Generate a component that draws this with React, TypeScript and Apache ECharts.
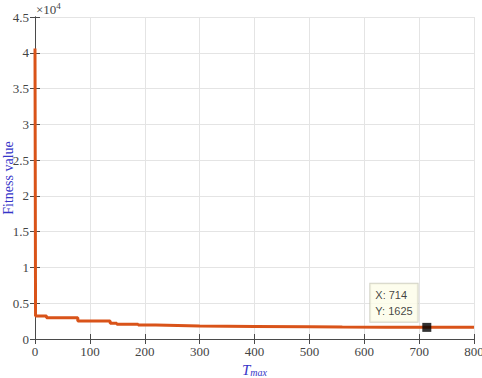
import React, { useEffect, useRef } from "react";
import * as echarts from "echarts";

const iterations = [0, 1, 21, 78, 137, 149, 188, 220, 260, 300, 400, 500, 560, 640, 714, 800];
const fitness = [40600, 3200, 2980, 2515, 2190, 2050, 1950, 1880, 1800, 1760, 1700, 1660, 1640, 1630, 1625, 1625];
const tipPoint = [714, 1625];
const xTicks = { min: 0, max: 800, interval: 100 };
const yTicks = { min: 0, max: 45000, interval: 5000 };
const yScale = 10000;

const serif = "'Liberation Serif', 'DejaVu Serif', serif";
const blue = "#3535c8";
const axisCol = "#4a4a4a";

export default function App() {
  const ref = useRef<HTMLDivElement>(null);
  useEffect(() => {
    document.body.style.margin = "0";
    const chart = echarts.init(ref.current!, null, { renderer: "svg" });
    const axisCommon = {
      axisLine: { show: true, lineStyle: { color: axisCol, width: 1 } },
      axisTick: { show: true, inside: true, length: 5, lineStyle: { color: axisCol } },
    };
    chart.setOption({
      animation: false,
      backgroundColor: "#ffffff",
      grid: { left: 35, right: 8, top: 17, bottom: 39, containLabel: false, outerBoundsMode: "none" },
      xAxis: [
        {
          type: "value",
          ...xTicks,
          position: "bottom",
          ...axisCommon,
          axisLabel: { color: "#444", fontFamily: serif, fontSize: 13, margin: 6 },
          splitLine: { show: true, lineStyle: { color: "#e4e4e4" } },
          name: "{t|T}{s|max}",
          nameLocation: "middle",
          nameGap: 23,
          nameMoveOverlap: false,
          nameTextStyle: {
            rich: {
              t: { fontFamily: serif, fontStyle: "italic", fontSize: 15, lineHeight: 15, color: blue },
              s: { fontFamily: serif, fontStyle: "italic", fontSize: 10, lineHeight: 10, color: blue, padding: [5, 0, 0, 0] },
            },
          },
        },
        {
          type: "value",
          ...xTicks,
          position: "top",
          ...axisCommon,
          axisLabel: { show: false },
          splitLine: { show: false },
        },
      ],
      yAxis: [
        {
          type: "value",
          ...yTicks,
          position: "left",
          ...axisCommon,
          axisLabel: {
            color: "#444",
            fontFamily: serif,
            fontSize: 13,
            margin: 6,
            formatter: (v: number) => String(v / yScale),
          },
          splitLine: { show: true, lineStyle: { color: "#e4e4e4" } },
          name: "Fitness value",
          nameLocation: "middle",
          nameGap: 20,
          nameMoveOverlap: false,
          nameTextStyle: { fontFamily: serif, fontSize: 14, color: blue },
        },
        {
          type: "value",
          ...yTicks,
          position: "right",
          ...axisCommon,
          axisLabel: { show: false },
          splitLine: { show: false },
        },
      ],
      graphic: [
        {
          type: "text",
          left: 36,
          top: 1,
          style: {
            text: "{a|×10}{b|4}",
            rich: {
              a: { fontFamily: serif, fontSize: 13, fill: "#444", verticalAlign: "bottom" },
              b: { fontFamily: serif, fontSize: 9, fill: "#444", padding: [0, 0, 6, 0], verticalAlign: "bottom" },
            },
          },
        },
      ],
      series: [
        {
          type: "line",
          step: "end",
          xAxisIndex: 0,
          yAxisIndex: 0,
          data: iterations.map((x, i) => [x, fitness[i]]),
          showSymbol: false,
          lineStyle: { color: "#D95319", width: 3 },
          z: 2,
        },
        {
          type: "scatter",
          xAxisIndex: 0,
          yAxisIndex: 0,
          data: [tipPoint],
          symbol: "rect",
          symbolSize: 9,
          itemStyle: { color: "#000" },
          z: 5,
          label: {
            show: true,
            position: [-52, -39],
            formatter: (p: any) => `X: ${p.value[0]}\nY: ${p.value[1]}`,
            fontFamily: "'Liberation Sans', Arial, sans-serif",
            fontSize: 11,
            lineHeight: 16,
            color: "#111",
            backgroundColor: "#fdfde8",
            borderColor: "#c8c8b8",
            borderWidth: 1,
            padding: [3, 5, 3, 5],
            align: "left",
            verticalAlign: "top",
          },
        },
      ],
    });
    return () => chart.dispose();
  }, []);
  return <div ref={ref} style={{ position: "absolute", left: 0, top: 0, width: 482, height: 378 }} />;
}
